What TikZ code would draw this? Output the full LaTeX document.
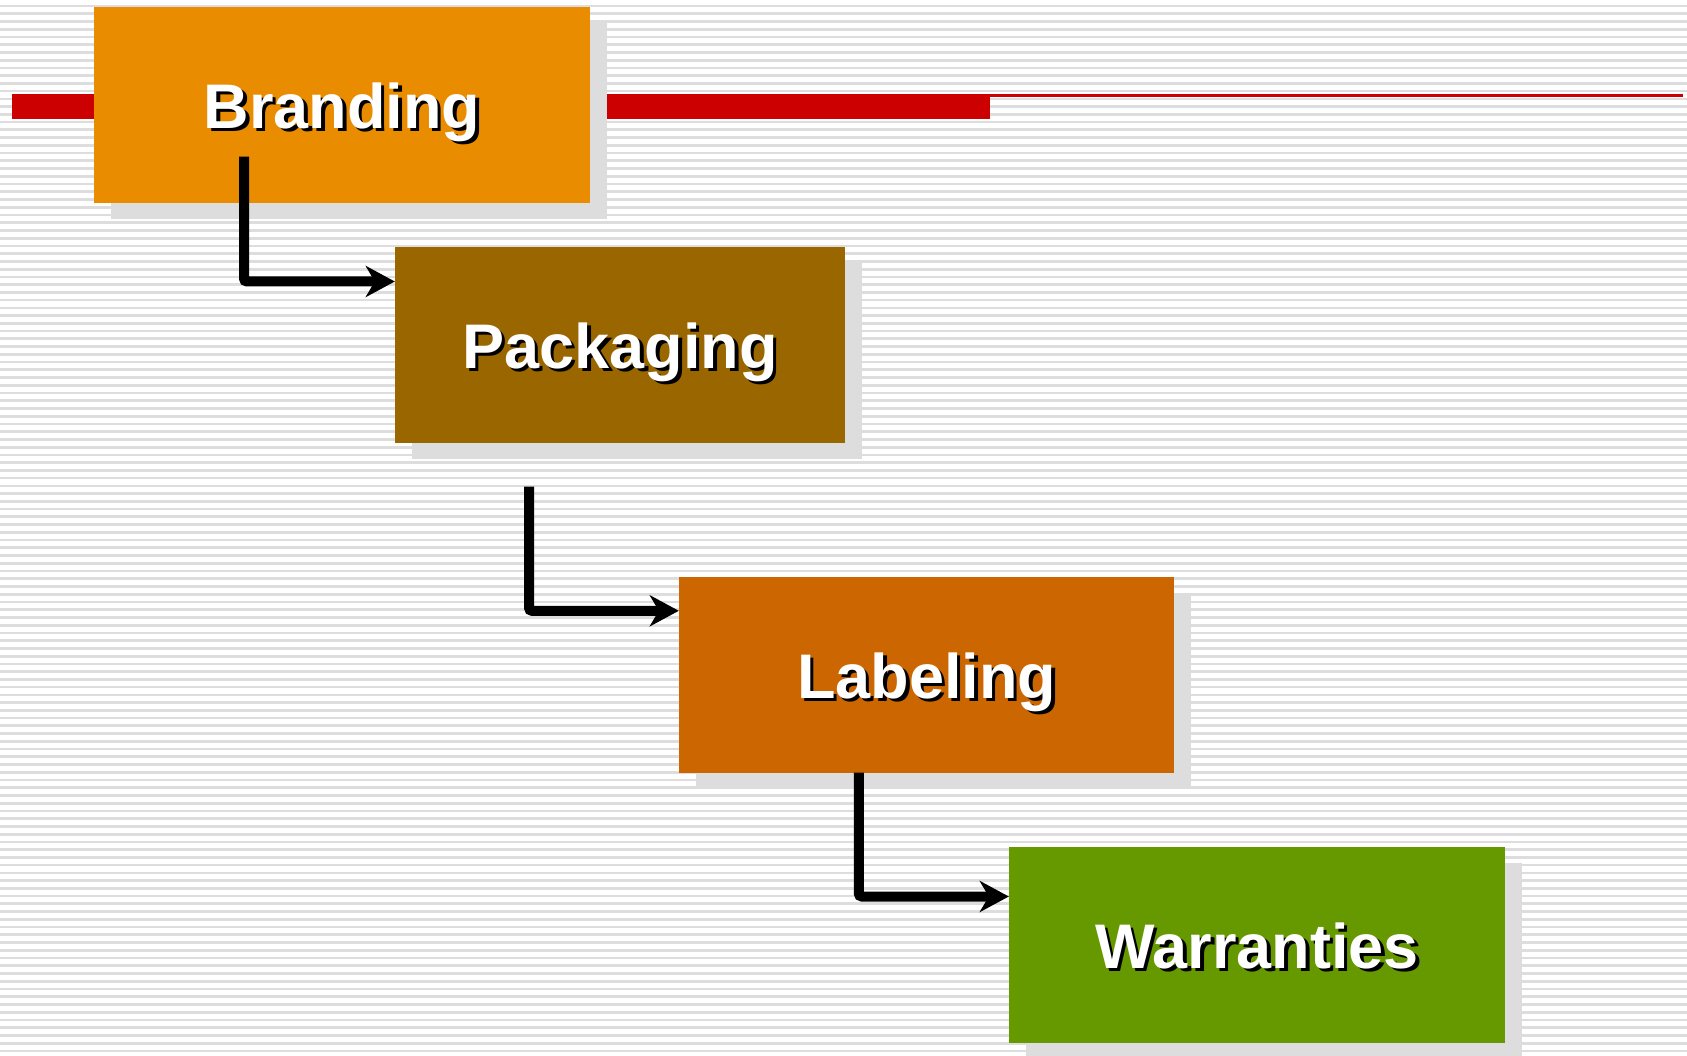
\documentclass[tikz,border=0pt]{standalone}
\usepackage{fontspec}
\setmainfont{Liberation Sans}
\usetikzlibrary{arrows.meta,calc,shadows}
\definecolor{stripec}{HTML}{DDDDDD}
\definecolor{shadowc}{HTML}{DDDDDD}
\definecolor{redc}{HTML}{CC0000}
\definecolor{brandc}{HTML}{EA8C00}
\definecolor{packc}{HTML}{996600}
\definecolor{labc}{HTML}{CC6600}
\definecolor{warc}{HTML}{669900}
\newcommand\shadowtext[1]{\leavevmode\rlap{\kern3.5pt\raisebox{-3.5pt}{\textcolor{black}{#1}}}\textcolor{white}{#1}}
\tikzset{
  stepbox/.style={rectangle, inner sep=0pt, minimum height=196pt,
    text height=47pt, text depth=0pt,
    font=\fontsize{63pt}{63pt}\selectfont\bfseries,
    drop shadow={shadow xshift=16.5pt, shadow yshift=-16.5pt, fill=shadowc, opacity=1}},
  conn/.style={line width=10pt, line cap=butt, rounded corners=3pt,
    -{Stealth[length=29pt,width=31pt,inset=9pt]}}
}
\begin{document}
\begin{tikzpicture}[x=1pt,y=-1pt]
\useasboundingbox (0,0) rectangle (1687,1056);
\fill[white] (0,0) rectangle (1687,1056);
\foreach \k in {0,...,135} {
  \fill[stripec] (0,{6+7.74*\k-1.35}) rectangle (1687,{6+7.74*\k+1.35});
}
% red rule
\fill[redc] (11.8,94.3) rectangle (990,119);
\fill[redc] (990,94.5) rectangle (1683,97.5);
% boxes
\node[stepbox, fill=brandc, minimum width=496pt] (brand) at (342,104.7) {\shadowtext{Branding}};
\node[stepbox, fill=packc, minimum width=450pt] (pack) at (620,344.7) {\shadowtext{Packaging}};
\node[stepbox, fill=labc, minimum width=495pt] (lab) at (926.5,674.5) {\shadowtext{Labeling}};
\node[stepbox, fill=warc, minimum width=496pt] (war) at (1257,944.7) {\shadowtext{Warranties}};
% connectors
\coordinate (s1) at (244,156.7);
\coordinate (s2) at (529,486.7);
\draw[conn] (s1) |- ($(pack.north west)+(0,35)$);
\draw[conn] (s2) |- ($(lab.north west)+(0,34.5)$);
\draw[conn] ($(lab.south west)+(180,0)$) |- ($(war.north west)+(0,50)$);
\end{tikzpicture}
\end{document}
